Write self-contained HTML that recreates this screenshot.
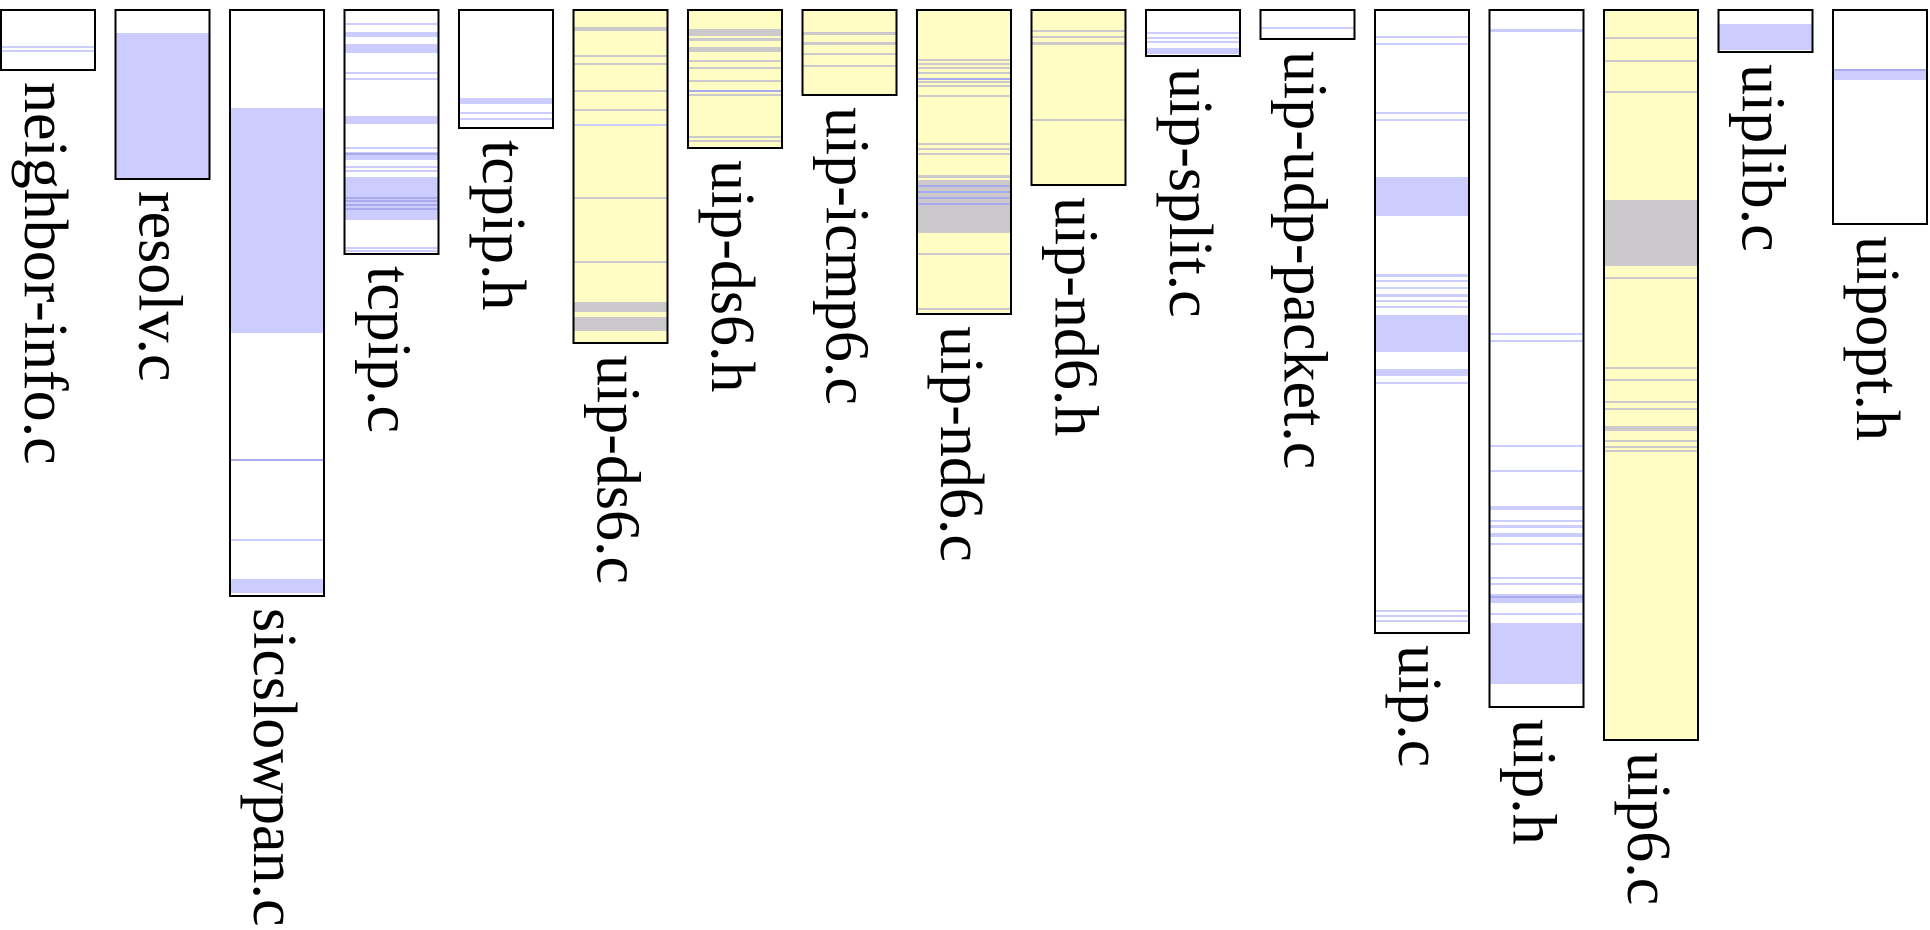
<!DOCTYPE html>
<html><head><meta charset="utf-8"><style>
html,body{margin:0;padding:0;background:#fff;width:1930px;height:930px;overflow:hidden}
text{font-family:"Liberation Serif",serif;font-size:62px;fill:#000}
.b{fill:#ccccff}.d{fill:#aaaaee}.g{fill:#cbc9cc}
</style></head><body>
<svg width="1930" height="930" xmlns="http://www.w3.org/2000/svg">
<!-- 0 neighbor-info -->
<g transform="translate(1,10)"><rect width="94" height="60" fill="#fff"/>
<rect class="b" y="36" width="94" height="2"/><rect class="b" y="40" width="94" height="2"/>
<rect width="94" height="60" fill="none" stroke="#000" stroke-width="2"/></g>
<!-- 1 resolv -->
<g transform="translate(115.5,10)"><rect width="94" height="169" fill="#fff"/>
<rect class="b" y="23" width="94" height="146"/>
<rect width="94" height="169" fill="none" stroke="#000" stroke-width="2"/></g>
<!-- 2 sicslowpan -->
<g transform="translate(230,10)"><rect width="94" height="586" fill="#fff"/>
<rect class="b" y="98" width="94" height="225"/><rect class="d" y="449" width="94" height="2"/>
<rect class="b" y="529" width="94" height="2"/><rect class="b" y="569" width="94" height="14"/>
<rect width="94" height="586" fill="none" stroke="#000" stroke-width="2"/></g>
<!-- 3 tcpip.c -->
<g transform="translate(344.5,10)"><rect width="94" height="244" fill="#fff"/>
<rect class="b" y="13" width="94" height="2"/><rect class="b" y="22" width="94" height="5"/><rect class="b" y="34" width="94" height="9"/>
<rect class="b" y="62" width="94" height="2"/><rect class="b" y="68" width="94" height="2"/><rect class="b" y="106" width="94" height="8"/>
<rect class="b" y="137" width="94" height="2"/><rect class="b" y="142" width="94" height="8"/><rect class="d" y="143" width="94" height="2"/>
<rect class="b" y="156" width="94" height="2"/><rect class="b" y="160" width="94" height="2"/><rect class="b" y="167" width="94" height="43"/>
<rect class="d" y="187" width="94" height="2"/><rect class="d" y="190" width="94" height="2"/><rect class="d" y="194" width="94" height="2"/><rect class="d" y="198" width="94" height="2"/>
<rect class="b" y="237" width="94" height="2"/><rect class="b" y="240" width="94" height="2"/>
<rect width="94" height="244" fill="none" stroke="#000" stroke-width="2"/></g>
<!-- 4 tcpip.h -->
<g transform="translate(459,10)"><rect width="94" height="118" fill="#fff"/>
<rect class="b" y="88" width="94" height="6"/><rect class="b" y="102" width="94" height="2"/><rect class="b" y="108" width="94" height="2"/>
<rect width="94" height="118" fill="none" stroke="#000" stroke-width="2"/></g>
<!-- 5 uip-ds6.c -->
<g transform="translate(573.5,10)"><rect width="94" height="333" fill="#fffcc4"/>
<rect class="g" y="17" width="94" height="4"/><rect class="g" y="45" width="94" height="2"/><rect class="g" y="53" width="94" height="2"/>
<rect class="g" y="80" width="94" height="2"/><rect class="g" y="99" width="94" height="2"/><rect class="b" y="114" width="94" height="2"/>
<rect class="g" y="187" width="94" height="2"/><rect class="g" y="251" width="94" height="2"/>
<rect class="g" y="292" width="94" height="10"/><rect class="g" y="307" width="94" height="14"/>
<rect width="94" height="333" fill="none" stroke="#000" stroke-width="2"/></g>
<!-- 6 uip-ds6.h -->
<g transform="translate(688,10)"><rect width="94" height="138" fill="#fffcc4"/>
<rect class="g" y="19" width="94" height="7"/><rect class="g" y="28" width="94" height="3"/><rect class="g" y="37" width="94" height="5"/>
<rect class="g" y="50" width="94" height="2"/><rect class="g" y="57" width="94" height="2"/><rect class="g" y="70" width="94" height="2"/>
<rect class="d" y="80" width="94" height="2"/><rect class="g" y="84" width="94" height="2"/><rect class="g" y="126" width="94" height="2"/><rect class="g" y="130" width="94" height="2"/>
<rect width="94" height="138" fill="none" stroke="#000" stroke-width="2"/></g>
<!-- 7 uip-icmp6.c -->
<g transform="translate(802.5,10)"><rect width="94" height="85" fill="#fffcc4"/>
<rect class="g" y="22" width="94" height="3"/><rect class="g" y="32" width="94" height="3"/><rect class="g" y="43" width="94" height="2"/><rect class="g" y="55" width="94" height="2"/>
<rect width="94" height="85" fill="none" stroke="#000" stroke-width="2"/></g>
<!-- 8 uip-nd6.c -->
<g transform="translate(917,10)"><rect width="94" height="304" fill="#fffcc4"/>
<rect class="g" y="49" width="94" height="2"/><rect class="g" y="53" width="94" height="2"/><rect class="g" y="57" width="94" height="2"/><rect class="g" y="62" width="94" height="2"/>
<rect class="d" y="68" width="94" height="2"/><rect class="g" y="71" width="94" height="2"/><rect class="g" y="75" width="94" height="2"/><rect class="g" y="85" width="94" height="2"/>
<rect class="g" y="133" width="94" height="2"/><rect class="g" y="138" width="94" height="2"/><rect class="g" y="143" width="94" height="2"/>
<rect class="g" y="165" width="94" height="58"/><rect y="168" width="94" height="2" fill="#fffcc4"/>
<rect class="d" y="175" width="94" height="2"/><rect class="d" y="181" width="94" height="2"/><rect class="d" y="187" width="94" height="2"/><rect class="d" y="193" width="94" height="2"/>
<rect class="g" y="243" width="94" height="2"/><rect class="g" y="298" width="94" height="2"/>
<rect width="94" height="304" fill="none" stroke="#000" stroke-width="2"/></g>
<!-- 9 uip-nd6.h -->
<g transform="translate(1031.5,10)"><rect width="94" height="175" fill="#fffcc4"/>
<rect class="g" y="20" width="94" height="2"/><rect class="g" y="26" width="94" height="2"/><rect class="g" y="32" width="94" height="3"/><rect class="g" y="109" width="94" height="2"/>
<rect width="94" height="175" fill="none" stroke="#000" stroke-width="2"/></g>
<!-- 10 uip-split.c -->
<g transform="translate(1146,10)"><rect width="94" height="46" fill="#fff"/>
<rect class="b" y="22" width="94" height="2"/><rect class="b" y="27" width="94" height="2"/><rect class="b" y="31" width="94" height="2"/><rect class="b" y="38" width="94" height="6"/>
<rect width="94" height="46" fill="none" stroke="#000" stroke-width="2"/></g>
<!-- 11 uip-udp-packet.c -->
<g transform="translate(1260.5,10)"><rect width="94" height="29" fill="#fff"/>
<rect class="b" y="17" width="94" height="2"/>
<rect width="94" height="29" fill="none" stroke="#000" stroke-width="2"/></g>
<!-- 12 uip.c -->
<g transform="translate(1375,10)"><rect width="94" height="623" fill="#fff"/>
<rect class="b" y="26" width="94" height="2"/><rect class="b" y="33" width="94" height="2"/><rect class="b" y="102" width="94" height="2"/><rect class="b" y="109" width="94" height="2"/>
<rect class="b" y="167" width="94" height="39"/>
<rect class="b" y="264" width="94" height="3"/><rect class="b" y="270" width="94" height="2"/><rect class="b" y="277" width="94" height="2"/>
<rect class="b" y="284" width="94" height="3"/><rect class="b" y="290" width="94" height="2"/><rect class="b" y="296" width="94" height="2"/>
<rect class="b" y="305" width="94" height="37"/><rect class="b" y="359" width="94" height="7"/><rect class="b" y="372" width="94" height="2"/>
<rect class="b" y="600" width="94" height="2"/><rect class="b" y="605" width="94" height="2"/><rect class="b" y="610" width="94" height="2"/>
<rect width="94" height="623" fill="none" stroke="#000" stroke-width="2"/></g>
<!-- 13 uip.h -->
<g transform="translate(1489.5,10)"><rect width="94" height="697" fill="#fff"/>
<rect class="b" y="19" width="94" height="3"/><rect class="b" y="323" width="94" height="2"/><rect class="b" y="330" width="94" height="2"/>
<rect class="b" y="435" width="94" height="2"/><rect class="b" y="460" width="94" height="2"/><rect class="b" y="496" width="94" height="4"/>
<rect class="b" y="510" width="94" height="2"/><rect class="b" y="515" width="94" height="3"/><rect class="b" y="523" width="94" height="4"/>
<rect class="b" y="533" width="94" height="2"/><rect class="b" y="567" width="94" height="2"/><rect class="b" y="573" width="94" height="2"/>
<rect class="b" y="584" width="94" height="9"/><rect class="d" y="586" width="94" height="2"/><rect class="b" y="603" width="94" height="2"/>
<rect class="b" y="613" width="94" height="61"/>
<rect width="94" height="697" fill="none" stroke="#000" stroke-width="2"/></g>
<!-- 14 uip6.c -->
<g transform="translate(1604,10)"><rect width="94" height="730" fill="#fffcc4"/>
<rect class="g" y="27" width="94" height="2"/><rect class="g" y="50" width="94" height="2"/><rect class="g" y="81" width="94" height="2"/>
<rect class="g" y="190" width="94" height="66"/><rect class="g" y="267" width="94" height="2"/>
<rect class="g" y="357" width="94" height="2"/><rect class="g" y="369" width="94" height="2"/><rect class="g" y="391" width="94" height="2"/><rect class="g" y="398" width="94" height="2"/>
<rect class="g" y="416" width="94" height="5"/><rect class="g" y="430" width="94" height="2"/><rect class="g" y="436" width="94" height="2"/><rect class="g" y="440" width="94" height="2"/>
<rect width="94" height="730" fill="none" stroke="#000" stroke-width="2"/></g>
<!-- 15 uiplib.c -->
<g transform="translate(1718.5,10)"><rect width="94" height="42" fill="#fff"/>
<rect class="b" y="14" width="94" height="26"/>
<rect width="94" height="42" fill="none" stroke="#000" stroke-width="2"/></g>
<!-- 16 uipopt.h -->
<g transform="translate(1833,10)"><rect width="94" height="214" fill="#fff"/>
<rect class="b" y="59" width="94" height="11"/><rect class="d" y="59" width="94" height="2"/>
<rect width="94" height="214" fill="none" stroke="#000" stroke-width="2"/></g>

<text transform="translate(25,82) rotate(90)">neighbor-info.c</text>
<text transform="translate(139.5,191) rotate(90)">resolv.c</text>
<text transform="translate(254,608) rotate(90)">sicslowpan.c</text>
<text transform="translate(368.5,266) rotate(90)">tcpip.c</text>
<text transform="translate(483,140) rotate(90)">tcpip.h</text>
<text transform="translate(597.5,355) rotate(90)">uip-ds6.c</text>
<text transform="translate(712,160) rotate(90)">uip-ds6.h</text>
<text transform="translate(826.5,107) rotate(90)">uip-icmp6.c</text>
<text transform="translate(941,326) rotate(90)">uip-nd6.c</text>
<text transform="translate(1055.5,197) rotate(90)">uip-nd6.h</text>
<text transform="translate(1170,68) rotate(90)">uip-split.c</text>
<text transform="translate(1284.5,51) rotate(90)">uip-udp-packet.c</text>
<text transform="translate(1399,645) rotate(90)">uip.c</text>
<text transform="translate(1513.5,719) rotate(90)">uip.h</text>
<text transform="translate(1628,752) rotate(90)">uip6.c</text>
<text transform="translate(1742.5,64) rotate(90)">uiplib.c</text>
<text transform="translate(1857,236) rotate(90)">uipopt.h</text>
</svg>
</body></html>
